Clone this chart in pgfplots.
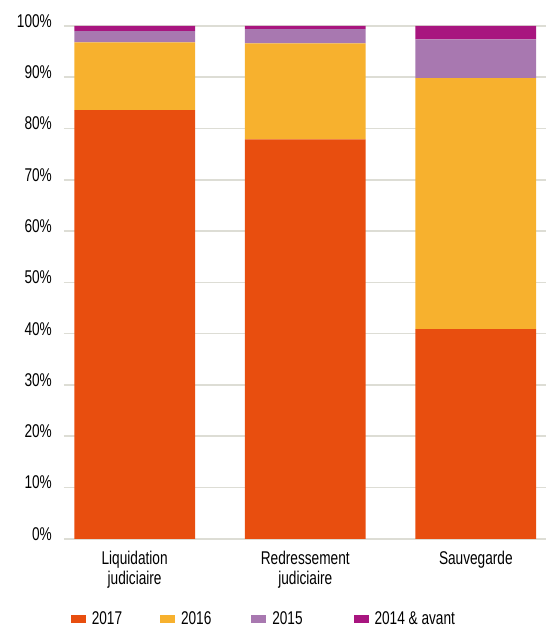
\documentclass[border=0pt]{standalone}
\usepackage{pgfplots}
\pgfplotsset{compat=1.18}
\usepackage{fontspec}
\setmainfont[FakeStretch=0.74]{Liberation Sans}

\definecolor{c2017}{RGB}{232,78,15}
\definecolor{c2016}{RGB}{247,177,46}
\definecolor{c2015}{RGB}{168,120,176}
\definecolor{c2014}{RGB}{168,21,127}
\definecolor{gridc}{RGB}{221,221,213}

\begin{document}
\begin{tikzpicture}
\begin{axis}[
  at={(0,0)}, anchor=south west,
  scale only axis,
  width=483pt, height=514pt,
  ybar stacked,
  bar width=121pt,
  xmin=-0.415, xmax=2.41,
  ymin=0, ymax=100,
  xtick={0,1,2},
  xticklabels={{Liquidation\\judiciaire},{Redressement\\judiciaire},{Sauvegarde}},
  xticklabel style={align=center, font=\fontsize{18.5}{20}\selectfont, yshift=-9pt},
  ytick={0,10,...,100},
  yticklabel={\pgfmathprintnumber{\tick}\%},
  yticklabel style={font=\fontsize{18.5}{20}\selectfont, xshift=-8.5pt, yshift=5pt},
  /pgf/number format/assume math mode=true,
  major tick length=0pt,
  axis line style={draw=none},
  ymajorgrids,
  grid style={gridc, line width=1.6pt},
  legend columns=4,
  legend style={draw=none, fill=none, inner sep=0pt, at={(0.014,-0.156)}, anchor=west,
    font=\fontsize{18.5}{20}\selectfont,
    nodes={inner xsep=0pt},
    /tikz/every odd column/.append style={column sep=6pt},
    /tikz/column 2/.append style={column sep=38pt},
    /tikz/column 4/.append style={column sep=40pt},
    /tikz/column 6/.append style={column sep=51pt}},
  legend image code/.code={\fill[#1] (0pt,-4pt) rectangle (15pt,4pt);},
]
\addplot[fill=c2017, draw=none] coordinates {(0,83.6) (1,77.9) (2,40.9)};
\addplot[fill=c2016, draw=none] coordinates {(0,13.2) (1,18.7) (2,48.9)};
\addplot[fill=c2015, draw=none] coordinates {(0,2.2) (1,2.8) (2,7.6)};
\addplot[fill=c2014, draw=none] coordinates {(0,1.0) (1,0.6) (2,2.6)};
\legend{2017,2016,2015,2014 \& avant}
\end{axis}
\path[use as bounding box] (-64pt,-88pt) rectangle (483pt,540pt);
\end{tikzpicture}
\end{document}
